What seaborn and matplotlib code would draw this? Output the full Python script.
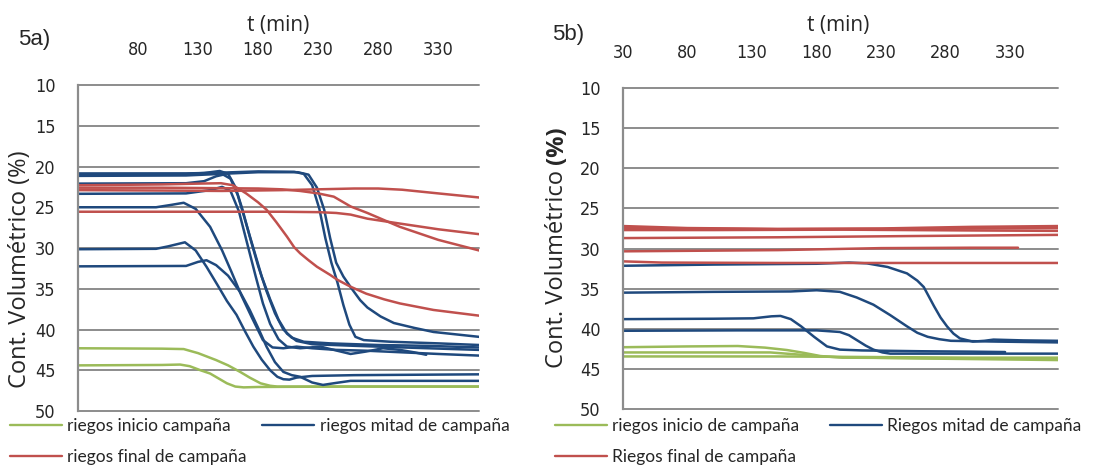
import matplotlib
matplotlib.use("Agg")
import matplotlib.pyplot as plt
import pandas as pd
import seaborn as sns
from matplotlib import font_manager
from matplotlib.font_manager import FontProperties
from matplotlib.lines import Line2D

# ---- 5a) curvas (t en min, contenido volumetrico en %) ----
a_verde_1 = [(30, 42.3), (100, 42.35), (118, 42.4), (130, 42.9), (145, 43.75), (155, 44.4), (165, 45.2),
             (173, 45.9), (182, 46.6), (190, 46.9), (196, 47.0), (250, 47.0), (364, 47.0)]
a_verde_2 = [(30, 44.4), (100, 44.35), (115, 44.3), (123, 44.5), (132, 45.0), (140, 45.4), (147, 46.0),
             (154, 46.6), (161, 47.0), (168, 47.1), (180, 47.05), (250, 47.0), (364, 47.0)]

a_azul_1 = [(30, 20.85), (120, 20.85), (150, 20.75), (180, 20.6), (210, 20.65), (218, 20.9), (225, 22.3),
            (231, 25.2), (236, 28.8), (241, 31.8), (246, 34.2), (251, 37.0), (256, 39.4), (261, 40.9),
            (268, 41.3), (290, 41.5), (330, 41.7), (364, 41.9)]
a_azul_2 = [(30, 21.15), (120, 21.1), (150, 20.9), (180, 20.7), (213, 20.7), (222, 21.0), (229, 22.6),
            (235, 25.3), (240, 28.8), (245, 31.8), (251, 33.5), (258, 35.0), (265, 36.4), (271, 37.3),
            (282, 38.4), (293, 39.2), (310, 39.8), (326, 40.3), (345, 40.6), (364, 40.9)]
a_azul_3 = [(30, 20.95), (120, 20.9), (135, 20.8), (148, 20.55), (155, 20.9), (161, 22.5), (167, 25.3),
            (173, 28.6), (180, 32.2), (187, 35.3), (194, 38.0), (201, 40.0), (208, 41.0), (218, 41.5),
            (240, 41.7), (280, 41.9), (320, 42.0), (364, 42.2)]
a_azul_4 = [(30, 22.1), (120, 22.05), (135, 21.8), (145, 21.2), (151, 21.0), (157, 21.5), (163, 23.5),
            (169, 26.5), (176, 30.0), (183, 33.5), (190, 36.3), (197, 38.8), (204, 40.5), (212, 41.4),
            (225, 41.8), (260, 42.0), (300, 42.2), (364, 42.5)]
a_azul_5 = [(30, 23.35), (120, 23.3), (140, 22.9), (150, 22.5), (157, 23.0), (164, 25.5), (171, 29.5),
            (178, 33.5), (184, 36.8), (190, 39.3), (197, 41.2), (204, 42.1), (215, 42.3), (232, 42.1),
            (243, 42.5), (257, 43.0), (270, 42.7), (284, 42.3), (298, 42.5), (310, 42.8), (320, 43.1)]
a_azul_6 = [(30, 25.0), (95, 25.0), (108, 24.7), (118, 24.45), (128, 25.2), (140, 27.4), (150, 30.3),
            (158, 33.0), (166, 35.8), (175, 38.6), (184, 41.3), (192, 42.2), (201, 42.3), (212, 42.1),
            (225, 42.3), (245, 42.5), (270, 42.6), (300, 42.8), (330, 43.0), (364, 43.2)]
a_azul_7 = [(30, 30.15), (95, 30.1), (105, 29.8), (119, 29.3), (128, 30.3), (137, 32.3), (146, 34.5),
            (154, 36.5), (162, 38.2), (169, 40.2), (176, 42.1), (183, 43.7), (190, 45.0), (196, 45.8),
            (201, 46.1), (206, 46.15), (212, 45.9), (225, 45.7), (260, 45.6), (364, 45.5)]
a_azul_8 = [(30, 32.25), (120, 32.2), (130, 31.7), (137, 31.5), (145, 32.1), (155, 33.4), (165, 35.4),
            (173, 37.6), (180, 39.8), (187, 42.1), (194, 44.0), (201, 45.2), (208, 45.6), (215, 45.8),
            (225, 46.5), (234, 46.8), (245, 46.55), (257, 46.3), (300, 46.3), (364, 46.3)]

a_rojo_1 = [(30, 22.3), (100, 22.2), (130, 22.1), (149, 22.05), (159, 22.3), (170, 23.3), (180, 24.4),
            (187, 25.3), (195, 26.8), (204, 28.6), (210, 29.9), (215, 30.65), (222, 31.5), (229, 32.3),
            (240, 33.3), (246, 33.9), (257, 34.75), (270, 35.6), (285, 36.3), (298, 36.8), (312, 37.2),
            (326, 37.6), (345, 37.95), (364, 38.3)]
a_rojo_2 = [(30, 22.6), (100, 22.6), (180, 22.7), (200, 22.8), (215, 23.0), (230, 23.3), (243, 23.7),
            (257, 24.9), (271, 25.7), (298, 27.4), (330, 29.0), (364, 30.3)]
a_rojo_3 = [(30, 25.55), (200, 25.55), (230, 25.6), (245, 25.7), (257, 25.9), (271, 26.4), (298, 27.0),
            (330, 27.7), (364, 28.3)]
a_rojo_4 = [(30, 22.9), (100, 22.95), (150, 23.0), (200, 22.9), (230, 22.8), (260, 22.7), (280, 22.7),
            (300, 22.85), (330, 23.3), (364, 23.8)]

# ---- 5b) ----
b_verde_1 = [(30, 42.3), (80, 42.2), (119, 42.15), (140, 42.35), (157, 42.65), (170, 43.0), (183, 43.4),
             (200, 43.6), (250, 43.65), (300, 43.7), (367, 43.7)]
b_verde_2 = [(30, 42.95), (100, 42.95), (144, 42.95), (165, 43.2), (183, 43.45), (200, 43.55), (260, 43.7),
             (367, 43.9)]
b_verde_3 = [(30, 43.45), (150, 43.45), (200, 43.5), (300, 43.6), (367, 43.6)]

b_azul_1 = [(30, 32.15), (100, 32.0), (180, 31.9), (205, 31.75), (219, 31.85), (235, 32.3), (250, 33.1),
            (258, 34.0), (263, 34.8), (267, 36.0), (271, 37.2), (276, 38.6), (281, 39.7), (286, 40.6),
            (291, 41.2), (301, 41.6), (310, 41.5), (317, 41.35), (340, 41.45), (367, 41.5)]
b_azul_2 = [(30, 35.5), (100, 35.4), (160, 35.35), (180, 35.2), (198, 35.4), (211, 36.1), (224, 37.0),
            (237, 38.3), (250, 39.7), (258, 40.5), (266, 41.0), (275, 41.3), (284, 41.5), (320, 41.6),
            (367, 41.7)]
b_azul_3 = [(30, 38.8), (100, 38.75), (131, 38.7), (145, 38.45), (152, 38.4), (160, 38.8), (168, 39.7),
            (178, 41.0), (188, 42.2), (198, 42.6), (215, 42.7), (260, 42.8), (300, 42.85), (326, 42.9)]
b_azul_4 = [(30, 40.25), (120, 40.2), (180, 40.2), (198, 40.4), (205, 40.8), (211, 41.4), (218, 42.1),
            (224, 42.6), (231, 42.95), (237, 43.1), (300, 43.1), (367, 43.1)]

b_rojo_1 = [(30, 27.2), (80, 27.45), (150, 27.55), (230, 27.5), (300, 27.3), (367, 27.2)]
b_rojo_2 = [(30, 27.45), (150, 27.6), (250, 27.55), (367, 27.45)]
b_rojo_3 = [(30, 27.7), (100, 27.7), (200, 27.65), (300, 27.75), (367, 27.8)]
b_rojo_4 = [(30, 28.7), (150, 28.6), (250, 28.45), (367, 28.3)]
b_rojo_5 = [(30, 30.35), (150, 30.2), (230, 29.95), (300, 29.9), (336, 29.9)]
b_rojo_6 = [(30, 31.6), (60, 31.75), (150, 31.8), (367, 31.8)]

Y_TICKS = [10, 15, 20, 25, 30, 35, 40, 45, 50]
X_TICKS_A = [80, 130, 180, 230, 280, 330]
X_TICKS_B = [30, 80, 130, 180, 230, 280, 330]

LABELS_A = ["riegos inicio campaña", "riegos mitad de campaña", "riegos final de campaña"]
LABELS_B = ["riegos inicio de campaña", "Riegos mitad de campaña", "Riegos final de campaña"]

PANEL_A = {"verde": [a_verde_1, a_verde_2],
           "azul": [a_azul_1, a_azul_2, a_azul_3, a_azul_4, a_azul_5, a_azul_6, a_azul_7, a_azul_8],
           "rojo": [a_rojo_1, a_rojo_2, a_rojo_3, a_rojo_4]}
PANEL_B = {"verde": [b_verde_1, b_verde_2, b_verde_3],
           "azul": [b_azul_1, b_azul_2, b_azul_3, b_azul_4],
           "rojo": [b_rojo_1, b_rojo_2, b_rojo_3, b_rojo_4, b_rojo_5, b_rojo_6]}

COLORS = {"verde": "#9BBB59", "azul": "#1F497D", "rojo": "#C0504D"}
GRID = "#8c8c8c"

sns.set_style("white")
plt.rcParams["font.family"] = ["Open Sans", "DejaVu Sans"]


def narrow_font():
    # the original tick font is a very condensed face; take any narrow face installed
    for f in font_manager.fontManager.ttflist:
        narrow = "Narrow" in f.name or "Condensed" in f.name or str(f.stretch) in ("condensed", "semi-condensed")
        if narrow and f.style == "normal" and f.weight in (400, "normal", "regular"):
            return FontProperties(fname=f.fname, size=13), True
    return FontProperties(family="DejaVu Sans", size=11), False


TICK_FP, IS_NARROW = narrow_font()


def to_frame(panel):
    rows = []
    for grupo, curvas in panel.items():
        for i, curva in enumerate(curvas):
            for t, y in curva:
                rows.append({"t": t, "y": y, "grupo": grupo, "curva": f"{grupo}{i}"})
    return pd.DataFrame(rows)


def style_axis(ax, xmax, xticks):
    ax.set_xlim(30, xmax)
    ax.set_ylim(50, 10)
    ax.xaxis.tick_top()
    ax.set_xticks(xticks)
    ax.set_yticks(Y_TICKS)
    ax.tick_params(axis="x", length=0, pad=19)
    ax.tick_params(axis="y", length=0, pad=16)
    for lab in ax.get_xticklabels() + ax.get_yticklabels():
        lab.set_fontproperties(TICK_FP)
    ax.set_xlabel("")
    ax.set_ylabel("")
    for side in ["top", "right", "bottom"]:
        ax.spines[side].set_visible(False)
    ax.spines["left"].set_color(GRID)
    ax.spines["left"].set_linewidth(1.6)
    ax.grid(axis="y", color=GRID, linewidth=1.4)
    ax.grid(axis="x", visible=False)
    for gl in ax.get_ygridlines():
        gl.set_clip_on(False)
    ax.set_axisbelow(True)


fig = plt.figure(figsize=(10.99, 4.65), dpi=100)
ax1 = fig.add_axes([0.0710, 0.1161, 0.3649, 0.7011])
ax2 = fig.add_axes([0.5669, 0.1204, 0.3958, 0.6903])

for ax, panel, xmax, xticks in [(ax1, PANEL_A, 364, X_TICKS_A), (ax2, PANEL_B, 367, X_TICKS_B)]:
    df = to_frame(panel)
    sns.lineplot(data=df, x="t", y="y", hue="grupo", units="curva", estimator=None, sort=False,
                 palette=COLORS, linewidth=1.8, legend=False, ax=ax)
    style_axis(ax, xmax, xticks)

# legends (col 1: inicio, final; col 2: mitad)
for labels, x0, colsp in [(LABELS_A, 0.009, 0.9), (LABELS_B, 0.505, 1.75)]:
    handles = [Line2D([], [], color=COLORS["verde"], lw=1.7),
               Line2D([], [], color=COLORS["rojo"], lw=1.7),
               Line2D([], [], color=COLORS["azul"], lw=1.7)]
    fig.legend(handles, [labels[0], labels[2], labels[1]], ncol=2, loc="upper left",
               bbox_to_anchor=(x0, 0.101), frameon=False, borderpad=0, borderaxespad=0,
               handlelength=3.0, handletextpad=0.3, columnspacing=colsp, labelspacing=0.85,
               prop={"family": "Lato", "size": 12.5})

fig.text(0.016, 0.914, "5a)", fontsize=16, family="Liberation Sans", va="center")
fig.text(0.502, 0.925, "5b)", fontsize=16, family="Liberation Sans", va="center")
fig.text(0.253, 0.945, "t (min)", fontsize=15, ha="center", va="center")
fig.text(0.7625, 0.945, "t (min)", fontsize=15, ha="center", va="center")

fig.text(0.018, 0.166, "Cont. Volumétrico (%)", rotation=90, fontsize=17, ha="center", va="bottom")
lab = fig.text(0.507, 0.209, "Cont. Volumétrico ", rotation=90, fontsize=17, ha="center", va="bottom")
fig.canvas.draw()
bb = lab.get_window_extent().transformed(fig.transFigure.inverted())
fig.text(0.507, bb.y1, "(%)", rotation=90, fontsize=17, fontweight="bold", ha="center", va="bottom")

fig.savefig("out.png", dpi=100)
